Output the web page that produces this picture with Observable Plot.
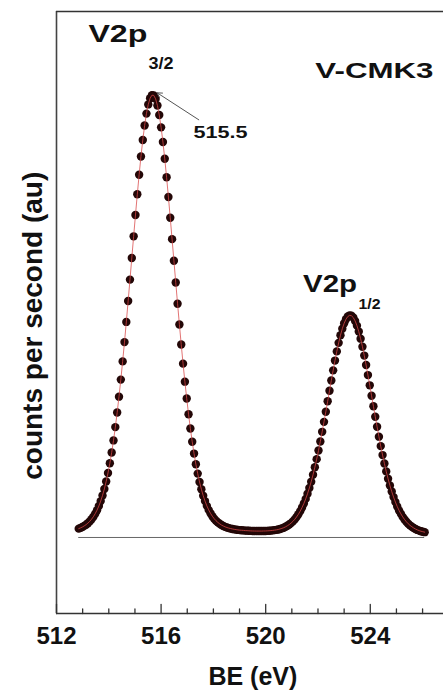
<!DOCTYPE html>
<html>
<head>
<meta charset="utf-8">
<script src="https://cdn.jsdelivr.net/npm/d3@7"></script>
<script src="https://cdn.jsdelivr.net/npm/@observablehq/plot@0.6"></script>
<style>
  html, body { margin: 0; padding: 0; background: #fff; }
  #chart svg { display: block; }
</style>
</head>
<body>
<div id="chart"></div>
<script>
// Binding energy (eV) of each measured point
const bindingEnergy = [
  512.85, 512.92, 512.99, 513.06, 513.13, 513.20, 513.27, 513.34, 513.41, 513.48,
  513.55, 513.62, 513.69, 513.76, 513.83, 513.90, 513.97, 514.04, 514.11, 514.18,
  514.25, 514.32, 514.39, 514.46, 514.53, 514.60, 514.67, 514.74, 514.81, 514.88,
  514.95, 515.02, 515.09, 515.16, 515.23, 515.30, 515.37, 515.44, 515.51, 515.58,
  515.65, 515.72, 515.79, 515.86, 515.93, 516.00, 516.07, 516.14, 516.21, 516.28,
  516.35, 516.42, 516.49, 516.56, 516.63, 516.70, 516.77, 516.84, 516.91, 516.98,
  517.05, 517.12, 517.19, 517.26, 517.33, 517.40, 517.47, 517.54, 517.61, 517.68,
  517.75, 517.82, 517.89, 517.96, 518.03, 518.10, 518.17, 518.24, 518.31, 518.38,
  518.45, 518.52, 518.59, 518.66, 518.73, 518.80, 518.87, 518.94, 519.01, 519.08,
  519.15, 519.22, 519.29, 519.36, 519.43, 519.50, 519.57, 519.64, 519.71, 519.78,
  519.85, 519.92, 519.99, 520.06, 520.13, 520.20, 520.27, 520.34, 520.41, 520.48,
  520.55, 520.62, 520.69, 520.76, 520.83, 520.90, 520.97, 521.04, 521.11, 521.18,
  521.25, 521.32, 521.39, 521.46, 521.53, 521.60, 521.67, 521.74, 521.81, 521.88,
  521.95, 522.02, 522.09, 522.16, 522.23, 522.30, 522.37, 522.44, 522.51, 522.58,
  522.65, 522.72, 522.79, 522.86, 522.93, 523.00, 523.07, 523.14, 523.21, 523.28,
  523.35, 523.42, 523.49, 523.56, 523.63, 523.70, 523.77, 523.84, 523.91, 523.98,
  524.05, 524.12, 524.19, 524.26, 524.33, 524.40, 524.47, 524.54, 524.61, 524.68,
  524.75, 524.82, 524.89, 524.96, 525.03, 525.10, 525.17, 525.24, 525.31, 525.38,
  525.45, 525.52, 525.59, 525.66, 525.73, 525.80, 525.87, 525.94, 526.01, 526.08
];

// Counts per second (arbitrary units, baseline = 0, V2p3/2 maximum ~ 100)
const countsPerSecond = [
  2.00, 2.17, 2.37, 2.62, 2.90, 3.24, 3.64, 4.13, 4.70, 5.38,
  6.18, 7.12, 8.23, 9.51, 10.98, 12.68, 14.60, 16.78, 19.23, 21.96,
  24.97, 28.27, 31.86, 35.72, 39.84, 44.20, 48.77, 53.50, 58.34, 63.24,
  68.13, 72.96, 77.64, 82.08, 86.21, 89.94, 93.20, 95.90, 97.98, 99.38,
  100.06, 100.02, 99.23, 97.74, 95.57, 92.79, 89.47, 85.67, 81.50, 77.02,
  72.33, 67.50, 62.60, 57.70, 52.89, 48.18, 43.65, 39.33, 35.25, 31.43,
  27.88, 24.64, 21.67, 18.98, 16.58, 14.45, 12.56, 10.91, 9.46, 8.23,
  7.15, 6.24, 5.46, 4.80, 4.25, 3.79, 3.41, 3.09, 2.81, 2.59,
  2.40, 2.25, 2.12, 2.01, 1.92, 1.84, 1.77, 1.71, 1.66, 1.63,
  1.60, 1.56, 1.54, 1.51, 1.49, 1.47, 1.46, 1.45, 1.45, 1.45,
  1.45, 1.47, 1.47, 1.50, 1.52, 1.56, 1.60, 1.66, 1.73, 1.81,
  1.93, 2.06, 2.21, 2.41, 2.65, 2.92, 3.25, 3.64, 4.09, 4.63,
  5.24, 5.96, 6.77, 7.69, 8.73, 9.90, 11.20, 12.62, 14.19, 15.88,
  17.72, 19.67, 21.73, 23.90, 26.16, 28.46, 30.81, 33.18, 35.52, 37.81,
  40.02, 42.10, 44.03, 45.75, 47.24, 48.45, 49.37, 49.98, 50.25, 50.16,
  49.75, 48.99, 47.93, 46.58, 44.98, 43.16, 41.15, 39.01, 36.74, 34.42,
  32.06, 29.68, 27.33, 25.04, 22.81, 20.67, 18.64, 16.74, 14.95, 13.29,
  11.78, 10.39, 9.14, 8.02, 7.02, 6.12, 5.35, 4.66, 4.07, 3.56,
  3.11, 2.74, 2.42, 2.15, 1.91, 1.71, 1.55, 1.41, 1.30, 1.20
];

// Axis ticks
const majorTicks = [512, 516, 520, 524];
const minorTicks = [513, 514, 515, 517, 518, 519, 521, 522, 523, 525, 526];

// Text labels
const labelTexts = ["V2p", "3/2", "V-CMK3", "515.5", "V2p", "1/2"];
const peakMaximum = [515.85, 100.6];     // annotated V2p3/2 maximum (arrow tip)
const axisLabelX = "BE (eV)";
const axisLabelY = "counts per second (au)";

// ---- layout (not data) ----
const xDomain = [512, 526.8];
const yDomain = [-17.2, 119];
const labelLayout = [
  {x: 513.22, y: 112.0, size: 23, width: 59},
  {x: 515.52, y: 106.1, size: 16, width: 25},
  {x: 521.90, y: 103.9, size: 22, width: 118},
  {x: 517.24, y: 90.4, size: 17, width: 54},
  {x: 521.43, y: 55.5, size: 23, width: 54},
  {x: 523.55, y: 51.8, size: 15, width: 22}
];
const labels = labelTexts.map((t, i) => ({text: t, ...labelLayout[i]}));

const data = bindingEnergy.map((be, i) => ({be, cps: countsPerSecond[i]}));
const font = "'Liberation Sans', Arial, Helvetica, sans-serif";
const tickShape = {draw(context, l) { context.moveTo(0, 0); context.lineTo(0, -l); }};

const chart = Plot.plot({
  width: 443,
  height: 690,
  marginLeft: 56,
  marginRight: 0,
  marginTop: 11,
  marginBottom: 77,
  style: {fontFamily: font, background: "#fff", overflow: "visible"},
  x: {domain: xDomain},
  y: {domain: yDomain, axis: null},
  marks: [
    // frame: left, top, bottom
    Plot.ruleX([xDomain[0]], {stroke: "#444", strokeWidth: 1.6}),
    Plot.ruleY([yDomain[1]], {stroke: "#333", strokeWidth: 1.6}),
    Plot.ruleY([yDomain[0]], {stroke: "#333", strokeWidth: 1.6}),
    // inward ticks
    Plot.vector(majorTicks, {x: d => d, y: () => yDomain[0], length: 9, rotate: 0, anchor: "start", shape: tickShape, stroke: "#333", strokeWidth: 1.3}),
    Plot.vector(minorTicks, {x: d => d, y: () => yDomain[0], length: 4.5, rotate: 0, anchor: "start", shape: tickShape, stroke: "#333", strokeWidth: 1.3}),
    Plot.axisX({ticks: majorTicks, tickSize: 0, tickPadding: 13, fontSize: 24, fontWeight: "bold", label: null, tickFormat: d => String(d), fill: "#111"}),
    // baseline
    Plot.ruleY([0], {x1: bindingEnergy[0], x2: bindingEnergy[bindingEnergy.length - 1], stroke: "#666", strokeWidth: 1}),
    // data points and fit line
    Plot.dot(data, {x: "be", y: "cps", r: 4.2, fill: "#230707", stroke: null}),
    Plot.line(data, {x: "be", y: "cps", stroke: "#d94848", strokeWidth: 0.9, strokeOpacity: 0.85}),
    // annotation arrow
    Plot.arrow([peakMaximum], {x1: () => 517.44, y1: () => 94.5, x2: d => d[0], y2: d => d[1], stroke: "#555", strokeWidth: 1, headLength: 8}),
    // text labels
    Plot.text(labels, {x: "x", y: "y", text: "text", fontSize: "size", fontWeight: "bold", textAnchor: "start", lineAnchor: "bottom", fill: "#111"}),
    // axis titles
    Plot.text([axisLabelX], {x: () => 519.51, y: () => -33.4, text: d => d, fontSize: 25, fontWeight: "bold", textAnchor: "middle", lineAnchor: "bottom", fill: "#111"}),
    Plot.text([axisLabelY], {x: () => 511.45, y: () => 47.9, text: d => d, rotate: -90, fontSize: 28, fontWeight: "bold", textAnchor: "middle", lineAnchor: "bottom", fill: "#111"})
  ]
});

// stretch annotation texts horizontally to the reference widths (in DOM order)
const pending = labels.slice();
d3.select(chart).selectAll("text").each(function () {
  const t = this.textContent;
  const k = pending.findIndex(l => l.text === t);
  if (k >= 0) {
    const l = pending.splice(k, 1)[0];
    this.setAttribute("textLength", l.width);
    this.setAttribute("lengthAdjust", "spacingAndGlyphs");
  }
});

document.getElementById("chart").appendChild(chart);
</script>
</body>
</html>
